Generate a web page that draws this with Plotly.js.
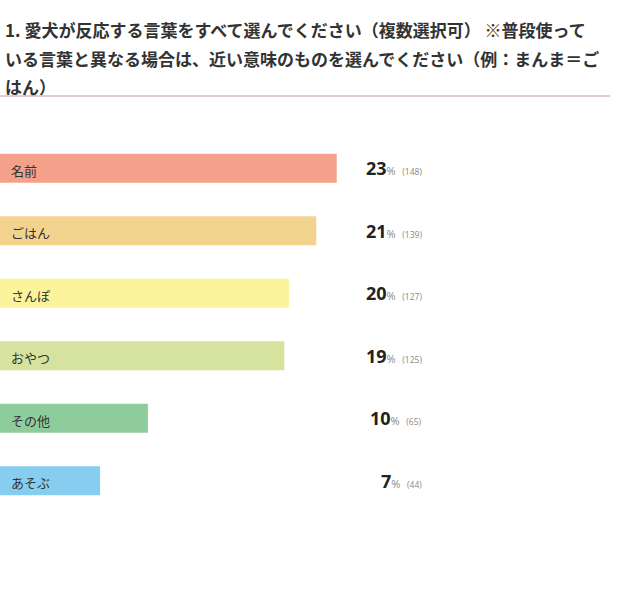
<!DOCTYPE html>
<html>
<head>
<meta charset="utf-8">
<script src="https://cdn.plot.ly/plotly-3.0.1.min.js"></script>
<style>
  html, body { margin: 0; padding: 0; background: #fff; }
  #chart { width: 620px; height: 595px; }
</style>
</head>
<body>
<div id="chart"></div>
<script>
// answers, percentages and counts
const categories = ['名前', 'ごはん', 'さんぽ', 'おやつ', 'その他', 'あそぶ'];
const percents = [23, 21, 20, 19, 10, 7];
const counts = [148, 139, 127, 125, 65, 44];
const barColors = ['#f4a08a', '#f1d38e', '#fbf49c', '#d5e39f', '#8fcc9c', '#86cdf0'];

const titleLines = [
    '1. 愛犬が反応する言葉をすべて選んでください（複数選択可） ※普段使って',
    'いる言葉と異なる場合は、近い意味のものを選んでください（例：まんま＝ご',
    'はん）'
];

const jpFont = '"Noto Sans CJK JP", "Noto Sans", sans-serif';

// bar length follows the number of answers
const trace = {
    type: 'bar',
    orientation: 'h',
    x: counts,
    y: categories,
    marker: { color: barColors },
    hoverinfo: 'skip'
};

// category name inside each bar, and the "23% (148)" label to the right
const annotations = [];
categories.forEach(function(cat, i) {
    annotations.push({
        x: 0, y: cat, xref: 'x', yref: 'y',
        xanchor: 'left', xshift: 9, yshift: -2,
        text: cat, showarrow: false,
        font: { family: jpFont, size: 13, color: '#333' }
    });
    annotations.push({
        x: 424 / 620, y: cat, xref: 'paper', yref: 'y',
        xanchor: 'right', yshift: 0,
        text: '<span style="font-size:18px;color:#222"><b>' + percents[i] + '</b></span>' +
              '<span style="font-size:11px;color:#888">%</span>' +
              '<span style="font-size:8.5px;color:#888">   (' + counts[i] + ')</span>',
        showarrow: false,
        font: { family: '"Open Sans", "Noto Sans", sans-serif', size: 18, color: '#222' }
    });
});

const layout = {
    width: 620,
    height: 595,
    margin: { l: 0, r: 0, t: 137, b: 83 },
    paper_bgcolor: '#fff',
    plot_bgcolor: '#fff',
    title: {
        text: titleLines.map(function(l) {
            return '<span style="font-size:17px">' + l + '</span>';
        }).join('<br>'),
        x: 5 / 620, xanchor: 'left', xref: 'paper',
        y: 1, yanchor: 'top', yref: 'container',
        pad: { t: 37 },
        font: { family: jpFont, size: 22, color: '#333', weight: 'bold' }
    },
    xaxis: {
        range: [0, 620 / 2.275],
        showgrid: false, zeroline: false, showticklabels: false, showline: false,
        fixedrange: true
    },
    yaxis: {
        autorange: 'reversed',
        showgrid: false, zeroline: false, showticklabels: false, showline: false,
        fixedrange: true
    },
    bargap: 0.535,
    showlegend: false,
    annotations: annotations,
    shapes: [{
        type: 'line', xref: 'paper', yref: 'paper',
        x0: 0, x1: 610 / 620,
        y0: (595 - 83 - 96) / (595 - 137 - 83), y1: (595 - 83 - 96) / (595 - 137 - 83),
        line: { color: '#e2b9b9', width: 1.5 }
    }]
};

Plotly.newPlot('chart', [trace], layout, { displayModeBar: false, staticPlot: true });
</script>
</body>
</html>
